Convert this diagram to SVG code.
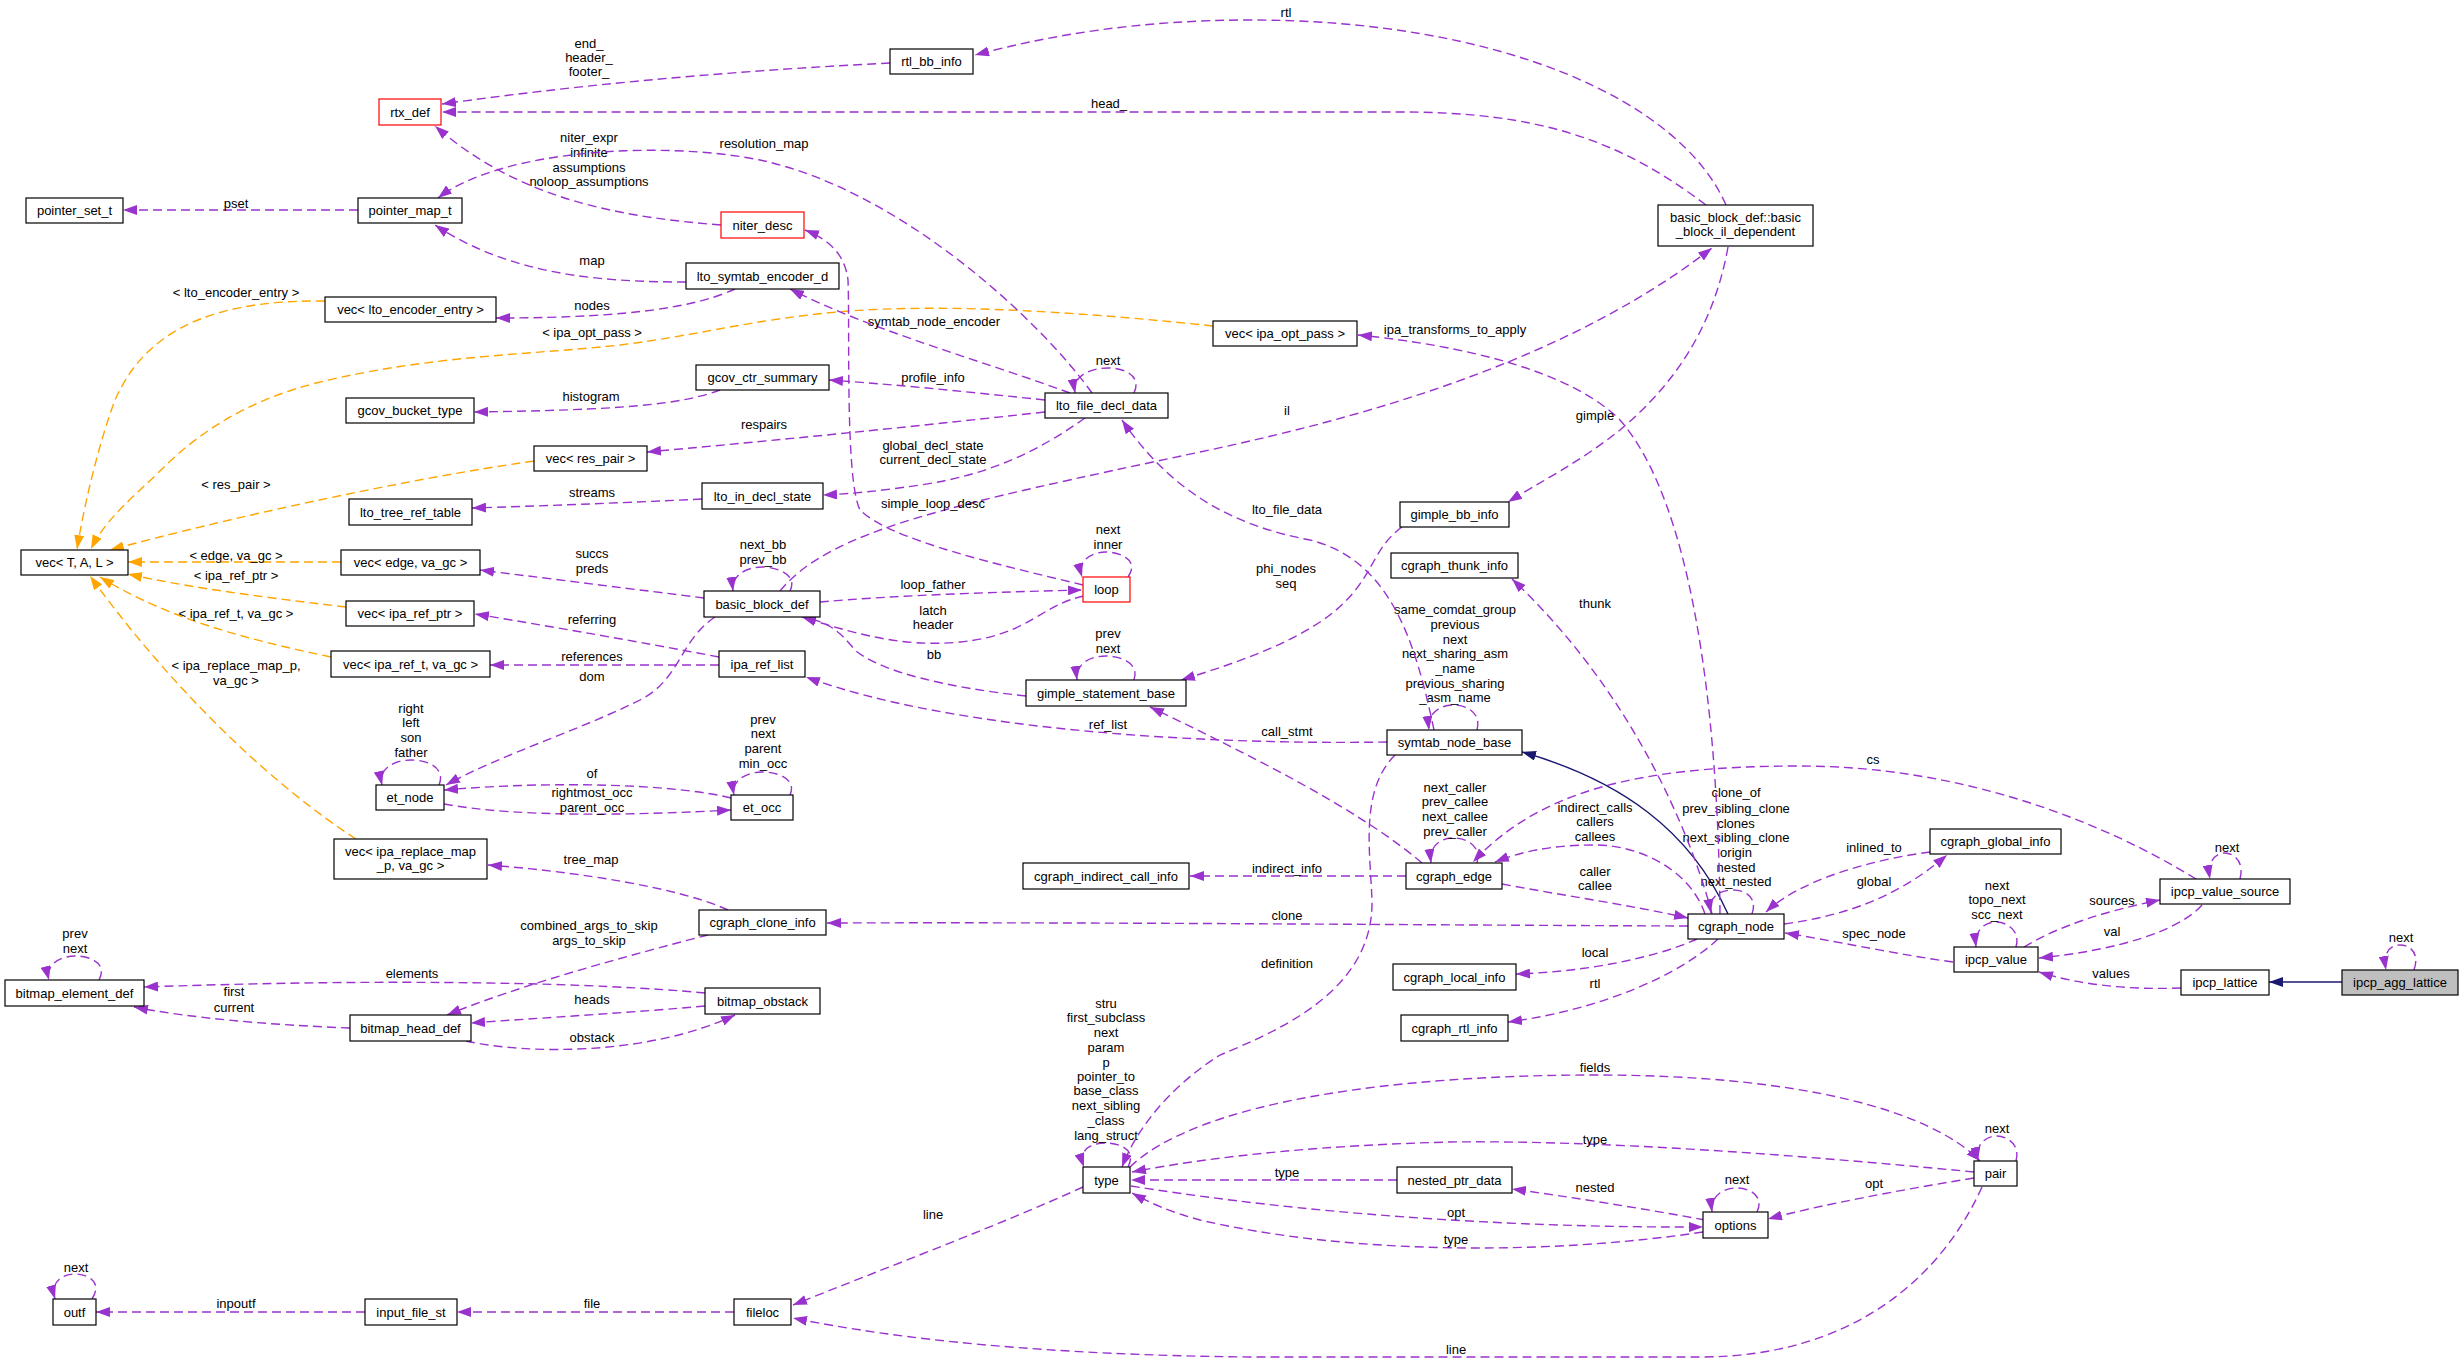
<svg xmlns="http://www.w3.org/2000/svg" width="2464" height="1363" viewBox="0 0 2464 1363">
<style>
.n rect{fill:#fff;stroke:#000;stroke-width:1.2}
.n rect.red{stroke:#ff0000}
.n rect.gray{fill:#bfbfbf}
text{font-family:"Liberation Sans",Arial,sans-serif;font-size:13px;fill:#000;text-anchor:middle}
.e{fill:none;stroke:#9a32cd;stroke-width:1.4;stroke-dasharray:9,5;marker-end:url(#ap)}
.o{fill:none;stroke:#ffa500;stroke-width:1.4;stroke-dasharray:9,5;marker-end:url(#ao)}
.s{fill:none;stroke:#191970;stroke-width:1.4;marker-end:url(#an)}
</style>
<defs>
<marker id="ap" markerUnits="userSpaceOnUse" markerWidth="14" markerHeight="10" viewBox="0 0 14 10" refX="14" refY="5" orient="auto"><path d="M0,0 L14,5 L0,10 z" fill="#9a32cd"/></marker>
<marker id="ao" markerUnits="userSpaceOnUse" markerWidth="14" markerHeight="10" viewBox="0 0 14 10" refX="14" refY="5" orient="auto"><path d="M0,0 L14,5 L0,10 z" fill="#ffa500"/></marker>
<marker id="an" markerUnits="userSpaceOnUse" markerWidth="14" markerHeight="10" viewBox="0 0 14 10" refX="14" refY="5" orient="auto"><path d="M0,0 L14,5 L0,10 z" fill="#191970"/></marker>
</defs>
<rect width="2464" height="1363" fill="#fff"/>
<g id="edges">
<path class="s" d="M2342,982 L2269,982"/>
<path class="e" d="M2414,970 C2420,953 2410,945 2400,945 C2390,945 2383,952 2386,970"/><text x="2401" y="941.5">next</text>
<path class="e" d="M2181,988 C2130,990 2080,985 2039,972"/><text x="2111" y="977.5">values</text>
<path class="e" d="M2016,947 C2021,930 2006,922 1996,922 C1985,922 1974,930 1976,947"/><text x="1997" y="889.5">next</text><text x="1997" y="903.5">topo_next</text><text x="1997" y="918.5">scc_next</text>
<path class="e" d="M2024,947 C2060,925 2110,910 2160,900"/><text x="2112" y="904.5">sources</text>
<path class="e" d="M2202,905 C2180,930 2120,950 2039,958"/><text x="2112" y="935.5">val</text>
<path class="e" d="M2240,879 C2245,860 2232,853 2225,853 C2215,853 2207,862 2210,879"/><text x="2227" y="851.5">next</text>
<path class="e" d="M2196,879 C2100,820 1960,766 1800,766 C1640,766 1540,790 1473,862"/><text x="1873" y="763.5">cs</text>
<path class="e" d="M1953,962 C1900,955 1830,940 1785,933"/><text x="1874" y="937.5">spec_node</text>
<path class="s" d="M1728,914 C1690,830 1620,780 1522,752"/>
<path class="e" d="M1752,914 C1758,897 1745,890 1733,890 C1718,890 1708,898 1711,913"/><text x="1736" y="796.5">clone_of</text><text x="1736" y="812.5">prev_sibling_clone</text><text x="1736" y="827.5">clones</text><text x="1736" y="841.5">next_sibling_clone</text><text x="1736" y="856.5">origin</text><text x="1736" y="871.5">nested</text><text x="1736" y="885.5">next_nested</text>
<path class="e" d="M1705,914 C1690,870 1640,845 1595,845 C1550,845 1520,852 1495,862"/><text x="1595" y="811.5">indirect_calls</text><text x="1595" y="825.5">callers</text><text x="1595" y="840.5">callees</text>
<path class="e" d="M1502,884 C1560,895 1630,905 1688,918"/><text x="1595" y="875.5">caller</text><text x="1595" y="889.5">callee</text>
<path class="e" d="M1477,863 C1482,845 1465,838 1454,838 C1440,838 1429,846 1431,863"/><text x="1455" y="791.5">next_caller</text><text x="1455" y="805.5">prev_callee</text><text x="1455" y="820.5">next_callee</text><text x="1455" y="835.5">prev_caller</text>
<path class="e" d="M1406,876 L1190,876"/><text x="1287" y="872.5">indirect_info</text>
<path class="e" d="M1688,926 C1400,925 1100,922 827,923"/><text x="1287" y="919.5">clone</text>
<path class="e" d="M1697,939 C1650,960 1580,972 1516,974"/><text x="1595" y="956.5">local</text>
<path class="e" d="M1718,939 C1680,975 1600,1010 1508,1022"/><text x="1595" y="987.5">rtl</text>
<path class="e" d="M1930,852 C1870,860 1800,880 1766,912"/><text x="1874" y="851.5">inlined_to</text>
<path class="e" d="M1784,924 C1850,915 1900,895 1947,855"/><text x="1874" y="885.5">global</text>
<path class="e" d="M1712,914 C1690,830 1630,690 1512,579"/><text x="1595" y="607.5">thunk</text>
<path class="e" d="M1720,914 C1718,700 1690,500 1620,420 C1570,370 1460,345 1358,335"/><text x="1455" y="333.5">ipa_transforms_to_apply</text>
<path class="e" d="M1422,863 C1360,810 1250,755 1150,707"/><text x="1287" y="735.5">call_stmt</text>
<path class="e" d="M1387,742 C1200,745 950,730 806,677"/><text x="1108" y="728.5">ref_list</text>
<path class="e" d="M1477,730 C1482,712 1465,705 1454,705 C1440,705 1427,713 1429,730"/><text x="1455" y="613.5">same_comdat_group</text><text x="1455" y="628.5">previous</text><text x="1455" y="643.5">next</text><text x="1455" y="657.5">next_sharing_asm</text><text x="1455" y="672.5">_name</text><text x="1455" y="687.5">previous_sharing</text><text x="1455" y="701.5">_asm_name</text>
<path class="e" d="M1434,730 C1415,640 1390,560 1310,540 C1230,525 1170,490 1122,420"/><text x="1287" y="513.5">lto_file_data</text>
<path class="e" d="M1395,755 C1360,790 1370,850 1372,900 C1374,990 1280,1030 1220,1055 C1180,1080 1140,1120 1122,1167"/><text x="1287" y="967.5">definition</text>
<path class="e" d="M1974,1172 C1800,1155 1600,1140 1450,1142 C1330,1145 1220,1155 1132,1172"/><text x="1595" y="1143.5">type</text>
<path class="e" d="M1130,1167 C1200,1100 1400,1075 1595,1075 C1800,1075 1930,1110 1980,1161"/><text x="1595" y="1071.5">fields</text>
<path class="e" d="M2016,1161 C2021,1143 2005,1136 1997,1136 C1985,1136 1975,1145 1978,1161"/><text x="1997" y="1132.5">next</text>
<path class="e" d="M1974,1178 C1900,1190 1820,1205 1768,1219"/><text x="1874" y="1187.5">opt</text>
<path class="e" d="M1982,1187 C1940,1280 1850,1357 1700,1357 L1250,1357 C1050,1355 900,1340 793,1318"/><text x="1456" y="1353.5">line</text>
<path class="e" d="M1757,1212 C1765,1195 1748,1188 1737,1188 C1722,1188 1710,1197 1712,1212"/><text x="1737" y="1183.5">next</text>
<path class="e" d="M1705,1220 C1640,1208 1570,1197 1512,1189"/><text x="1595" y="1191.5">nested</text>
<path class="e" d="M1397,1180 L1131,1180"/><text x="1287" y="1176.5">type</text>
<path class="e" d="M1131,1186 C1250,1205 1450,1228 1703,1227"/><text x="1456" y="1216.5">opt</text>
<path class="e" d="M1703,1232 C1550,1255 1350,1255 1200,1220 C1170,1212 1150,1203 1132,1193"/><text x="1456" y="1243.5">type</text>
<path class="e" d="M1128,1167 C1137,1150 1120,1143 1106,1143 C1090,1143 1078,1150 1084,1167"/><text x="1106" y="1007.5">stru</text><text x="1106" y="1021.5">first_subclass</text><text x="1106" y="1036.5">next</text><text x="1106" y="1051.5">param</text><text x="1106" y="1066.5">p</text><text x="1106" y="1080.5">pointer_to</text><text x="1106" y="1094.5">base_class</text><text x="1106" y="1109.5">next_sibling</text><text x="1106" y="1124.5">_class</text><text x="1106" y="1139.5">lang_struct</text>
<path class="e" d="M1083,1187 C1000,1225 880,1270 793,1305"/><text x="933" y="1218.5">line</text>
<path class="e" d="M734,1312 L457,1312"/><text x="592" y="1307.5">file</text>
<path class="e" d="M365,1312 L96,1312"/><text x="236" y="1307.5">inpoutf</text>
<path class="e" d="M92,1299 C103,1282 88,1274 75,1274 C62,1274 50,1282 55,1299"/><text x="76" y="1271.5">next</text>
<path class="e" d="M728,910 C680,888 580,872 488,865"/><text x="591" y="863.5">tree_map</text>
<path class="e" d="M708,935 C630,955 520,985 447,1015"/><text x="589" y="929.5">combined_args_to_skip</text><text x="589" y="944.5">args_to_skip</text>
<path class="e" d="M705,993 C600,983 400,978 144,987"/><text x="412" y="977.5">elements</text>
<path class="e" d="M705,1006 C640,1012 540,1018 471,1023"/><text x="592" y="1003.5">heads</text>
<path class="e" d="M466,1041 C530,1055 650,1055 735,1015"/><text x="592" y="1041.5">obstack</text>
<path class="e" d="M350,1028 C270,1025 190,1018 134,1007"/><text x="234" y="995.5">first</text><text x="234" y="1011.5">current</text>
<path class="e" d="M99,980 C108,963 90,956 75,956 C60,956 45,965 49,980"/><text x="75" y="937.5">prev</text><text x="75" y="952.5">next</text>
<path class="o" d="M356,839 C280,790 180,700 90,576"/><text x="236" y="669.5">&lt; ipa_replace_map_p,</text><text x="236" y="684.5">va_gc &gt;</text>
<path class="o" d="M331,657 C250,640 170,620 100,577"/><text x="236" y="617.5">&lt; ipa_ref_t, va_gc &gt;</text>
<path class="o" d="M346,607 C270,598 190,588 128,574"/><text x="236" y="579.5">&lt; ipa_ref_ptr &gt;</text>
<path class="o" d="M341,562 L128,562"/><text x="236" y="559.5">&lt; edge, va_gc &gt;</text>
<path class="o" d="M534,461 C400,480 220,520 110,550"/><text x="236" y="488.5">&lt; res_pair &gt;</text>
<path class="o" d="M1213,326 C1100,314 950,302 837,312 C750,320 700,335 620,345 C530,355 430,355 316,383 C250,400 200,430 158,473 C130,500 105,520 91,549"/><text x="592" y="336.5">&lt; ipa_opt_pass &gt;</text>
<path class="o" d="M325,301 C230,300 150,320 115,400 C100,440 85,500 77,549"/><text x="236" y="296.5">&lt; lto_encoder_entry &gt;</text>
<path class="e" d="M719,657 C640,642 560,628 475,614"/><text x="592" y="623.5">referring</text>
<path class="e" d="M719,665 L490,665"/><text x="592" y="660.5">references</text>
<path class="e" d="M704,598 C640,590 560,580 480,570"/><text x="592" y="557.5">succs</text><text x="592" y="572.5">preds</text>
<path class="e" d="M715,617 C680,640 680,680 640,700 C580,730 500,755 446,785"/><text x="592" y="680.5">dom</text>
<path class="e" d="M790,591 C798,575 778,567 762,567 C747,567 731,575 733,591"/><text x="763" y="548.5">next_bb</text><text x="763" y="563.5">prev_bb</text>
<path class="e" d="M820,602 C900,595 1000,592 1082,590"/><text x="933" y="588.5">loop_father</text>
<path class="e" d="M1084,596 C1040,605 1030,635 960,642 C900,648 850,632 802,617"/><text x="933" y="614.5">latch</text><text x="933" y="628.5">header</text>
<path class="e" d="M1128,577 C1140,560 1120,552 1106,552 C1092,552 1077,560 1082,577"/><text x="1108" y="533.5">next</text><text x="1108" y="548.5">inner</text>
<path class="e" d="M780,591 C830,530 950,505 1200,452 C1400,410 1580,350 1712,248"/><text x="1287" y="414.5">il</text>
<path class="e" d="M1026,696 C950,688 880,672 855,650 C840,632 830,622 802,617"/><text x="934" y="658.5">bb</text>
<path class="e" d="M1134,680 C1140,663 1120,656 1106,656 C1090,656 1075,664 1077,680"/><text x="1108" y="637.5">prev</text><text x="1108" y="652.5">next</text>
<path class="e" d="M1402,527 C1370,550 1375,580 1330,615 C1290,645 1230,665 1181,680"/><text x="1286" y="572.5">phi_nodes</text><text x="1286" y="587.5">seq</text>
<path class="e" d="M1728,247 C1715,320 1680,380 1620,430 C1580,462 1540,482 1508,502"/><text x="1595" y="419.5">gimple</text>
<path class="e" d="M1726,205 C1680,100 1500,20 1250,20 C1140,20 1050,35 975,55"/><text x="1286" y="16.5">rtl</text>
<path class="e" d="M1706,205 C1620,140 1540,112 1400,112 L442,112"/><text x="1109" y="107.5">head_</text>
<path class="e" d="M890,63 C750,70 600,82 442,104"/><text x="589" y="47.5">end_</text><text x="589" y="61.5">header_</text><text x="589" y="75.5">footer_</text>
<path class="e" d="M721,225 C620,217 520,200 435,126"/><text x="589" y="141.5">niter_expr</text><text x="589" y="156.5">infinite</text><text x="589" y="171.5">assumptions</text><text x="589" y="185.5">noloop_assumptions</text>
<path class="e" d="M1092,393 C1040,320 900,190 760,160 C660,140 500,150 438,198"/><text x="764" y="147.5">resolution_map</text>
<path class="e" d="M1134,393 C1142,376 1125,368 1108,368 C1090,368 1072,376 1075,393"/><text x="1108" y="364.5">next</text>
<path class="e" d="M686,282 C600,282 510,275 435,225"/><text x="592" y="264.5">map</text>
<path class="e" d="M735,289 C700,305 640,318 496,318"/><text x="592" y="309.5">nodes</text>
<path class="e" d="M1070,393 C980,360 870,330 790,289"/><text x="934" y="325.5">symtab_node_encoder</text>
<path class="e" d="M1045,400 C950,390 900,385 829,380"/><text x="933" y="381.5">profile_info</text>
<path class="e" d="M720,390 C680,405 620,410 474,412"/><text x="591" y="400.5">histogram</text>
<path class="e" d="M1045,412 C900,428 780,440 647,452"/><text x="764" y="428.5">respairs</text>
<path class="e" d="M1085,418 C1040,450 990,475 920,485 C880,491 850,494 823,495"/><text x="933" y="449.5">global_decl_state</text><text x="933" y="463.5">current_decl_state</text>
<path class="e" d="M702,499 C620,503 540,506 472,508"/><text x="592" y="496.5">streams</text>
<path class="e" d="M1083,585 C1000,565 890,540 860,510 C845,480 850,330 848,280 C845,255 830,240 805,230"/><text x="933" y="507.5">simple_loop_desc</text>
<path class="e" d="M358,210 L123,210"/><text x="236" y="207.5">pset</text>
<path class="e" d="M439,785 C446,768 428,760 411,760 C395,760 378,768 382,785"/><text x="411" y="712.5">right</text><text x="411" y="726.5">left</text><text x="411" y="741.5">son</text><text x="411" y="756.5">father</text>
<path class="e" d="M444,804 C520,818 640,815 731,810"/><text x="592" y="796.5">rightmost_occ</text><text x="592" y="811.5">parent_occ</text>
<path class="e" d="M731,798 C680,785 560,780 444,790"/><text x="592" y="777.5">of</text>
<path class="e" d="M790,795 C797,779 778,772 762,772 C747,772 731,780 734,795"/><text x="763" y="723.5">prev</text><text x="763" y="737.5">next</text><text x="763" y="752.5">parent</text><text x="763" y="767.5">min_occ</text>
</g>
<g id="node-rtx_def" class="n"><rect class="red" x="379" y="99" width="62" height="26"/><text x="410" y="116.5">rtx_def</text></g>
<g id="node-rtl_bb_info" class="n"><rect x="890" y="49" width="83" height="25"/><text x="931.5" y="66">rtl_bb_info</text></g>
<g id="node-basic_block_il_dependent" class="n"><rect x="1658" y="205" width="155" height="41"/><text x="1735.5" y="221.5">basic_block_def::basic</text><text x="1735.5" y="235.5">_block_il_dependent</text></g>
<g id="node-pointer_set_t" class="n"><rect x="26" y="198" width="97" height="25"/><text x="74.5" y="215">pointer_set_t</text></g>
<g id="node-pointer_map_t" class="n"><rect x="358" y="198" width="104" height="25"/><text x="410" y="215">pointer_map_t</text></g>
<g id="node-niter_desc" class="n"><rect class="red" x="721" y="212" width="83" height="26"/><text x="762.5" y="229.5">niter_desc</text></g>
<g id="node-lto_symtab_encoder_d" class="n"><rect x="686" y="263" width="153" height="26"/><text x="762.5" y="280.5">lto_symtab_encoder_d</text></g>
<g id="node-vec_lto_encoder_entry" class="n"><rect x="325" y="297" width="171" height="25"/><text x="410.5" y="314">vec&lt; lto_encoder_entry &gt;</text></g>
<g id="node-vec_ipa_opt_pass" class="n"><rect x="1213" y="321" width="144" height="25"/><text x="1285" y="338">vec&lt; ipa_opt_pass &gt;</text></g>
<g id="node-gcov_ctr_summary" class="n"><rect x="696" y="365" width="133" height="25"/><text x="762.5" y="382">gcov_ctr_summary</text></g>
<g id="node-gcov_bucket_type" class="n"><rect x="346" y="398" width="128" height="25"/><text x="410" y="415">gcov_bucket_type</text></g>
<g id="node-lto_file_decl_data" class="n"><rect x="1045" y="393" width="123" height="25"/><text x="1106.5" y="410">lto_file_decl_data</text></g>
<g id="node-vec_res_pair" class="n"><rect x="534" y="446" width="113" height="25"/><text x="590.5" y="463">vec&lt; res_pair &gt;</text></g>
<g id="node-lto_in_decl_state" class="n"><rect x="702" y="483" width="121" height="26"/><text x="762.5" y="500.5">lto_in_decl_state</text></g>
<g id="node-lto_tree_ref_table" class="n"><rect x="349" y="499" width="123" height="26"/><text x="410.5" y="516.5">lto_tree_ref_table</text></g>
<g id="node-gimple_bb_info" class="n"><rect x="1400" y="502" width="109" height="25"/><text x="1454.5" y="519">gimple_bb_info</text></g>
<g id="node-vec_T_A_L" class="n"><rect x="21" y="550" width="107" height="25"/><text x="74.5" y="567">vec&lt; T, A, L &gt;</text></g>
<g id="node-vec_edge" class="n"><rect x="341" y="550" width="139" height="25"/><text x="410.5" y="567">vec&lt; edge, va_gc &gt;</text></g>
<g id="node-cgraph_thunk_info" class="n"><rect x="1391" y="553" width="127" height="25"/><text x="1454.5" y="570">cgraph_thunk_info</text></g>
<g id="node-loop" class="n"><rect class="red" x="1083" y="577" width="47" height="25"/><text x="1106.5" y="594">loop</text></g>
<g id="node-basic_block_def" class="n"><rect x="704" y="591" width="116" height="26"/><text x="762" y="608.5">basic_block_def</text></g>
<g id="node-vec_ipa_ref_ptr" class="n"><rect x="346" y="601" width="128" height="25"/><text x="410" y="618">vec&lt; ipa_ref_ptr &gt;</text></g>
<g id="node-ipa_ref_list" class="n"><rect x="719" y="651" width="86" height="26"/><text x="762" y="668.5">ipa_ref_list</text></g>
<g id="node-vec_ipa_ref_t" class="n"><rect x="331" y="651" width="159" height="26"/><text x="410.5" y="668.5">vec&lt; ipa_ref_t, va_gc &gt;</text></g>
<g id="node-gimple_statement_base" class="n"><rect x="1026" y="680" width="160" height="26"/><text x="1106" y="697.5">gimple_statement_base</text></g>
<g id="node-symtab_node_base" class="n"><rect x="1387" y="730" width="135" height="25"/><text x="1454.5" y="747">symtab_node_base</text></g>
<g id="node-et_node" class="n"><rect x="376" y="785" width="68" height="25"/><text x="410" y="802">et_node</text></g>
<g id="node-et_occ" class="n"><rect x="731" y="795" width="62" height="25"/><text x="762" y="812">et_occ</text></g>
<g id="node-cgraph_global_info" class="n"><rect x="1930" y="829" width="131" height="25"/><text x="1995.5" y="846">cgraph_global_info</text></g>
<g id="node-vec_ipa_replace_map" class="n"><rect x="334" y="839" width="153" height="40"/><text x="410.5" y="855.5">vec&lt; ipa_replace_map</text><text x="410.5" y="869.5">_p, va_gc &gt;</text></g>
<g id="node-cgraph_edge" class="n"><rect x="1406" y="863" width="96" height="26"/><text x="1454" y="880.5">cgraph_edge</text></g>
<g id="node-cgraph_indirect_call_info" class="n"><rect x="1023" y="863" width="166" height="26"/><text x="1106" y="880.5">cgraph_indirect_call_info</text></g>
<g id="node-ipcp_value_source" class="n"><rect x="2160" y="879" width="130" height="25"/><text x="2225" y="896">ipcp_value_source</text></g>
<g id="node-cgraph_clone_info" class="n"><rect x="699" y="910" width="127" height="25"/><text x="762.5" y="927">cgraph_clone_info</text></g>
<g id="node-cgraph_node" class="n"><rect x="1688" y="914" width="96" height="25"/><text x="1736" y="931">cgraph_node</text></g>
<g id="node-ipcp_value" class="n"><rect x="1954" y="947" width="84" height="25"/><text x="1996" y="964">ipcp_value</text></g>
<g id="node-cgraph_local_info" class="n"><rect x="1393" y="964" width="123" height="26"/><text x="1454.5" y="981.5">cgraph_local_info</text></g>
<g id="node-ipcp_lattice" class="n"><rect x="2181" y="970" width="88" height="25"/><text x="2225" y="987">ipcp_lattice</text></g>
<g id="node-ipcp_agg_lattice" class="n"><rect class="gray" x="2342" y="970" width="116" height="25"/><text x="2400" y="987">ipcp_agg_lattice</text></g>
<g id="node-bitmap_element_def" class="n"><rect x="5" y="980" width="139" height="26"/><text x="74.5" y="997.5">bitmap_element_def</text></g>
<g id="node-bitmap_obstack" class="n"><rect x="705" y="988" width="115" height="26"/><text x="762.5" y="1005.5">bitmap_obstack</text></g>
<g id="node-bitmap_head_def" class="n"><rect x="350" y="1015" width="121" height="26"/><text x="410.5" y="1032.5">bitmap_head_def</text></g>
<g id="node-cgraph_rtl_info" class="n"><rect x="1401" y="1015" width="107" height="26"/><text x="1454.5" y="1032.5">cgraph_rtl_info</text></g>
<g id="node-pair" class="n"><rect x="1974" y="1161" width="43" height="25"/><text x="1995.5" y="1178">pair</text></g>
<g id="node-type" class="n"><rect x="1083" y="1167" width="47" height="26"/><text x="1106.5" y="1184.5">type</text></g>
<g id="node-nested_ptr_data" class="n"><rect x="1397" y="1167" width="115" height="26"/><text x="1454.5" y="1184.5">nested_ptr_data</text></g>
<g id="node-options" class="n"><rect x="1703" y="1212" width="65" height="26"/><text x="1735.5" y="1229.5">options</text></g>
<g id="node-outf" class="n"><rect x="53" y="1299" width="43" height="26"/><text x="74.5" y="1316.5">outf</text></g>
<g id="node-input_file_st" class="n"><rect x="365" y="1299" width="92" height="26"/><text x="411" y="1316.5">input_file_st</text></g>
<g id="node-fileloc" class="n"><rect x="734" y="1299" width="57" height="26"/><text x="762.5" y="1316.5">fileloc</text></g>
</svg>
